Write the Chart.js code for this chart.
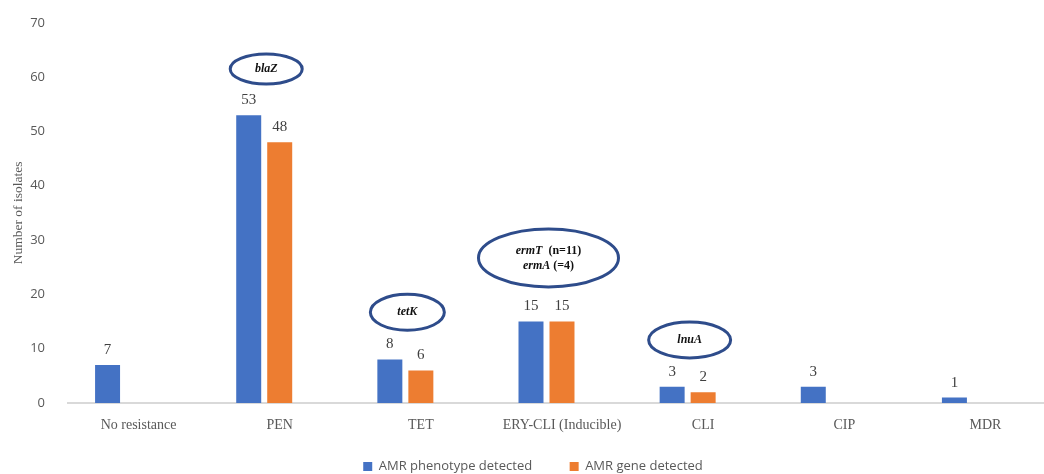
<!DOCTYPE html>
<html lang="en">
<head>
<meta charset="UTF-8">
<title>AMR phenotype and gene detection</title>
<script src="https://cdn.jsdelivr.net/npm/chart.js@4.4.1/dist/chart.umd.min.js"></script>
<style>
  html, body { margin: 0; padding: 0; background: #fff; overflow: hidden; }
  #wrap { width: 1060px; height: 483px; }
</style>
</head>
<body>
<div id="wrap"><canvas id="amrChart"></canvas></div>

<script>
  // data
  const categories = ['No resistance', 'PEN', 'TET', 'ERY-CLI (Inducible)', 'CLI', 'CIP', 'MDR'];
  const phenotypeValues = [7, 53, 8, 15, 3, 3, 1];
  const geneValues = [null, 48, 6, 15, 2, null, null];
  const yTicks = [0, 10, 20, 30, 40, 50, 60, 70];

  // gene names written in the ellipses (y = value on the axis where the ellipse sits)
  const geneNotes = [
    { category: 'PEN', y: 61.5, rx: 36, ry: 15, lines: [[['blaZ', true]]] },
    { category: 'TET', y: 16.7, rx: 37, ry: 18, lines: [[['tetK', true]]] },
    { category: 'ERY-CLI (Inducible)', y: 26.7, rx: 70, ry: 29,
      lines: [[['ermT', true], ['  (n=11)', false]], [['ermA', true], [' (=4)', false]]] },
    { category: 'CLI', y: 11.6, rx: 41, ry: 18, lines: [[['lnuA', true]]] }
  ];

  const serif = '"Liberation Serif", "Times New Roman", serif';
  const sans = '"Open Sans", "Liberation Sans", sans-serif';

  // numbers above the bars
  const valueLabels = {
    id: 'valueLabels',
    afterDatasetsDraw(chart) {
      const ctx = chart.ctx;
      ctx.save();
      ctx.font = '15px ' + serif;
      ctx.fillStyle = '#404040';
      ctx.textAlign = 'center';
      ctx.textBaseline = 'middle';
      [0, 1].forEach(di => {
        const meta = chart.getDatasetMeta(di);
        meta.data.forEach((bar, i) => {
          const v = chart.data.datasets[di].data[i];
          if (v == null) return;
          ctx.fillText(v, bar.x, bar.y - 15);
        });
      });
      ctx.restore();
    }
  };

  // ellipses with the detected genes
  const geneEllipses = {
    id: 'geneEllipses',
    afterDatasetsDraw(chart) {
      const ctx = chart.ctx;
      const ys = chart.scales.y;
      ctx.save();
      geneNotes.forEach(n => {
        const idx = categories.indexOf(n.category);
        const b0 = chart.getDatasetMeta(0).data[idx];
        const b1 = chart.getDatasetMeta(1).data[idx];
        const cx = (b0.x + b1.x) / 2 + 2;
        const cy = ys.getPixelForValue(n.y);
        ctx.beginPath();
        ctx.ellipse(cx, cy, n.rx, n.ry, 0, 0, Math.PI * 2);
        ctx.lineWidth = 3;
        ctx.strokeStyle = '#2e4c8b';
        ctx.stroke();

        ctx.fillStyle = '#111';
        ctx.textBaseline = 'middle';
        ctx.textAlign = 'left';
        const lh = 15;
        const top = cy - (n.lines.length - 1) * lh / 2;
        n.lines.forEach((line, li) => {
          let w = 0;
          line.forEach(([t, it]) => {
            ctx.font = (it ? 'italic bold ' : 'bold ') + '12px ' + serif;
            w += ctx.measureText(t).width;
          });
          let x = cx - w / 2;
          line.forEach(([t, it]) => {
            ctx.font = (it ? 'italic bold ' : 'bold ') + '12px ' + serif;
            ctx.fillText(t, x, top + li * lh);
            x += ctx.measureText(t).width;
          });
        });
      });
      ctx.restore();
    }
  };

  const ctx = document.getElementById('amrChart').getContext('2d');
  const amrChart = new Chart(ctx, {
    type: 'bar',
    data: {
      labels: categories,
      datasets: [
        { label: 'AMR phenotype detected', data: phenotypeValues, backgroundColor: '#4472c4' },
        { label: 'AMR gene detected', data: geneValues, backgroundColor: '#ed7d31' },
        // empty third series: keeps the bars left of the label, as in the figure
        { label: '', data: categories.map(() => null), backgroundColor: 'rgba(0,0,0,0)' }
      ]
    },
    options: {
      responsive: true,
      maintainAspectRatio: false,
      animation: false,
      categoryPercentage: 0.659,
      barPercentage: 0.806,
      layout: { padding: { left: 10, right: 4, top: 4, bottom: 0 } },
      plugins: {
        tooltip: { enabled: false },
        legend: {
          position: 'bottom',
          labels: {
            boxWidth: 9,
            boxHeight: 9,
            padding: 24,
            color: '#595959',
            font: { family: sans, size: 13 },
            // drop the empty spacer series, widen the gap after the first item
            generateLabels: chart => Chart.defaults.plugins.legend.labels.generateLabels(chart)
              .filter(item => item.text !== '')
              .map((item, i) => i === 0 ? { ...item, text: item.text + '    ' } : item)
          }
        }
      },
      scales: {
        x: {
          afterFit: scale => { scale.height = 33; },
          grid: { display: false },
          border: { color: '#d9d9d9', width: 2 },
          ticks: { color: '#595959', font: { family: serif, size: 14 }, padding: 6 }
        },
        y: {
          min: 0,
          max: 70,
          afterBuildTicks: scale => { scale.ticks = yTicks.map(v => ({ value: v })); },
          afterFit: scale => { scale.width = 58; },
          grid: { display: false },
          border: { display: false },
          ticks: { color: '#595959', font: { family: sans, size: 13 }, padding: 15 },
          title: {
            display: true,
            text: 'Number of isolates',
            color: '#595959',
            font: { family: serif, size: 13.5 },
            padding: 0
          }
        }
      }
    },
    plugins: [valueLabels, geneEllipses]
  });
</script>
</body>
</html>
